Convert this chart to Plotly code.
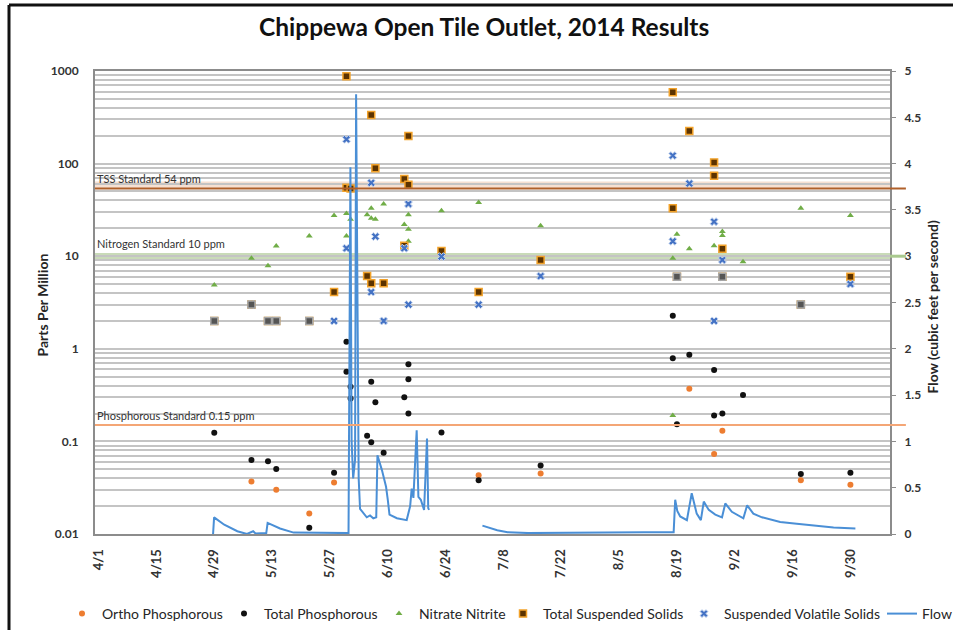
import math
import plotly.graph_objects as go

# ---- Grab-sample results (ppm) ----
ortho_dates = ["2014-05-08", "2014-05-14", "2014-05-22", "2014-05-28", "2014-07-02", "2014-07-17",
               "2014-08-22", "2014-08-28", "2014-08-30", "2014-09-18", "2014-09-30"]
ortho_ppm = [0.037, 0.030, 0.0167, 0.036, 0.043, 0.045, 0.37, 0.073, 0.13, 0.038, 0.034]

tp_dates = ["2014-04-29", "2014-05-08", "2014-05-12", "2014-05-14", "2014-05-22", "2014-05-28",
            "2014-05-31", "2014-05-31", "2014-06-01", "2014-06-01", "2014-06-05", "2014-06-06",
            "2014-06-06", "2014-06-07", "2014-06-09", "2014-06-14", "2014-06-15", "2014-06-15",
            "2014-06-15", "2014-06-23", "2014-07-02", "2014-07-17", "2014-08-18", "2014-08-18",
            "2014-08-19", "2014-08-22", "2014-08-28", "2014-08-28", "2014-08-30", "2014-09-04",
            "2014-09-18", "2014-09-30"]
tp_ppm = [0.124, 0.063, 0.061, 0.0505, 0.0117, 0.046,
          1.19, 0.566, 0.39, 0.29, 0.115, 0.44,
          0.098, 0.264, 0.0755, 0.30, 0.68, 0.47,
          0.20, 0.125, 0.038, 0.055, 2.28, 0.79,
          0.153, 0.86, 0.59, 0.19, 0.20, 0.317,
          0.0445, 0.046]

nitrate_dates = ["2014-04-29", "2014-05-08", "2014-05-12", "2014-05-14", "2014-05-22", "2014-05-28",
                 "2014-05-31", "2014-05-31", "2014-06-01", "2014-06-05", "2014-06-06", "2014-06-06",
                 "2014-06-07", "2014-06-09", "2014-06-14", "2014-06-15", "2014-06-15", "2014-06-15",
                 "2014-06-23", "2014-07-02", "2014-07-17", "2014-08-18", "2014-08-18", "2014-08-19",
                 "2014-08-22", "2014-08-28", "2014-08-30", "2014-08-30", "2014-09-04", "2014-09-18",
                 "2014-09-30"]
nitrate_ppm = [4.9, 9.5, 7.9, 12.9, 16.5, 27.5,
               29, 16.5, 25, 28, 33, 25.7,
               25, 36.6, 22, 28, 19.5, 14.5,
               31, 38, 21.3, 9.5, 0.19, 17.3,
               12, 13, 18.5, 16.7, 8.7, 33,
               27.5]

tss_dates = ["2014-04-29", "2014-05-08", "2014-05-12", "2014-05-14", "2014-05-22", "2014-05-28",
             "2014-05-31", "2014-05-31", "2014-06-01", "2014-06-05", "2014-06-06", "2014-06-06",
             "2014-06-07", "2014-06-09", "2014-06-14", "2014-06-14", "2014-06-15", "2014-06-15",
             "2014-06-23", "2014-07-02", "2014-07-17", "2014-08-18", "2014-08-18", "2014-08-19",
             "2014-08-22", "2014-08-28", "2014-08-28", "2014-08-30", "2014-08-30", "2014-09-18",
             "2014-09-30"]
tss_ppm = [2, 3, 2, 2, 2, 4.1,
           880, 55, 54, 6.1, 335, 5.1,
           89, 5.1, 68, 13, 199, 59,
           11.4, 4.1, 9.1, 589, 32.9, 6,
           225, 103, 74, 12, 6, 3,
           6.0]

vss_dates = ["2014-04-29", "2014-05-08", "2014-05-12", "2014-05-14", "2014-05-22", "2014-05-28",
             "2014-05-31", "2014-05-31", "2014-06-06", "2014-06-06", "2014-06-07", "2014-06-09",
             "2014-06-14", "2014-06-15", "2014-06-15", "2014-06-23", "2014-07-02", "2014-07-17",
             "2014-08-18", "2014-08-18", "2014-08-19", "2014-08-22", "2014-08-28", "2014-08-28",
             "2014-08-30", "2014-08-30", "2014-09-18", "2014-09-30"]
vss_ppm = [2, 3, 2, 2, 2, 2.0,
           183, 12.2, 62, 4.1, 16.3, 2.0,
           12.2, 36.6, 3.0, 9.9, 3.0, 6.1,
           122, 14.5, 6, 61, 23.6, 2.0,
           9.1, 6, 3, 5.0]

# ---- Continuous flow record (cfs); None marks the gap in logging ----
flow_time = ["2014-04-28 17:00", "2014-04-28 23:00", "2014-05-01 10:00", "2014-05-04 14:00",
             "2014-05-06 22:00", "2014-05-08 10:00", "2014-05-09 00:00", "2014-05-11 14:00",
             "2014-05-11 22:00", "2014-05-14 22:00", "2014-05-18 05:00", "2014-05-27 00:00",
             "2014-05-31 12:00", "2014-05-31 23:00", "2014-06-01 06:00", "2014-06-01 15:00",
             "2014-06-02 02:00", "2014-06-02 08:00", "2014-06-02 17:00", "2014-06-02 23:00",
             "2014-06-03 07:00", "2014-06-04 02:00", "2014-06-04 22:00", "2014-06-05 17:00",
             "2014-06-06 12:00", "2014-06-07 05:00", "2014-06-07 12:00", "2014-06-08 14:00",
             "2014-06-09 14:00", "2014-06-10 00:00", "2014-06-10 10:00", "2014-06-12 05:00",
             "2014-06-14 14:00", "2014-06-15 10:00", "2014-06-15 19:00", "2014-06-16 05:00",
             "2014-06-17 00:00", "2014-06-17 10:00", "2014-06-18 00:00", "2014-06-18 19:00",
             "2014-06-19 12:00", "2014-06-19 19:00", "2014-06-20 00:00", "2014-06-26 00:00",
             "2014-07-02 22:00", "2014-07-04 12:00", "2014-07-06 12:00", "2014-07-09 00:00",
             "2014-07-14 00:00", "2014-08-11 00:00", "2014-08-18 05:00", "2014-08-18 14:00",
             "2014-08-19 02:00", "2014-08-19 19:00", "2014-08-21 10:00", "2014-08-22 14:00",
             "2014-08-23 00:00", "2014-08-23 19:00", "2014-08-24 19:00", "2014-08-25 12:00",
             "2014-08-26 17:00", "2014-08-28 07:00", "2014-08-29 22:00", "2014-08-30 17:00",
             "2014-09-01 07:00", "2014-09-04 02:00", "2014-09-05 00:00", "2014-09-06 12:00",
             "2014-09-08 14:00", "2014-09-13 00:00", "2014-09-17 00:00", "2014-09-21 02:00",
             "2014-09-25 22:00", "2014-10-01 05:00"]
flow_cfs = [0.0, 0.18, 0.10, 0.03,
            0.0, 0.03, 0.005, 0.01,
            0.12, 0.06, 0.015, 0.01,
            0.01, 3.96, 1.0, 0.6,
            0.8, 4.75, 2.0, 0.6,
            0.27, 0.22, 0.18, 0.2,
            0.17, 0.18, 0.85, 0.69,
            0.51, 0.37, 0.21, 0.17,
            0.15, 0.30, 0.49, 0.39,
            1.12, 0.40, 0.37, 0.26,
            1.03, 0.28, 0.26, None,
            0.09, 0.07, 0.04, 0.02,
            0.01, 0.02, 0.02, 0.37,
            0.25, 0.19, 0.15, 0.44,
            0.37, 0.22, 0.15, 0.35,
            0.26, 0.21, 0.18, 0.33,
            0.24, 0.17, 0.31, 0.22,
            0.18, 0.13, 0.11, 0.09,
            0.07, 0.06]

# ---- Water-quality standards (ppm) ----
tss_standard = 54
nitrogen_standard = 10
phosphorous_standard = 0.15

x_range = ["2014-03-31 03:00", "2014-10-09 14:00"]

FONT = "Lato, 'Open Sans', Arial, sans-serif"
TXT = "#262626"

W, H = 953, 630
ML, MR, MT, MB = 95, 63, 71, 96
plot_w, plot_h = W - ML - MR, H - MT - MB
plot_b = H - MB


def px_x(px):
    return (px - ML) / plot_w


def px_y(py):
    return (plot_b - py) / plot_h


fig = go.Figure()

fig.add_trace(go.Scatter(
    x=ortho_dates, y=ortho_ppm, mode="markers", name="Ortho Phosphorous",
    marker=dict(symbol="circle", size=6, color="#ed7d31"), legend="legend"))
fig.add_trace(go.Scatter(
    x=tp_dates, y=tp_ppm, mode="markers", name="Total Phosphorous",
    marker=dict(symbol="circle", size=6, color="#111111"), legend="legend2"))
fig.add_trace(go.Scatter(
    x=nitrate_dates, y=nitrate_ppm, mode="markers", name="Nitrate Nitrite",
    marker=dict(symbol="triangle-up", size=6, color="#70ad47"), legend="legend3"))
fig.add_trace(go.Scatter(
    x=tss_dates, y=tss_ppm, mode="markers", name="Total Suspended Solids",
    marker=dict(symbol="square", size=7, color="#5c3300",
                line=dict(color="#f2a22a", width=1.5)), legend="legend4"))
fig.add_trace(go.Scatter(
    x=vss_dates, y=vss_ppm, mode="markers", name="Suspended Volatile Solids",
    marker=dict(symbol="x", size=7, color="#4472c4",
                line=dict(color="#c5d5ee", width=1)), legend="legend5"))

# Where TSS and VSS report the same value on the same day the two markers merge
tss_pairs = set(zip(tss_dates, tss_ppm))
both = [(d, v) for d, v in zip(vss_dates, vss_ppm) if (d, v) in tss_pairs]
fig.add_trace(go.Scatter(
    x=[d for d, _ in both], y=[v for _, v in both], mode="markers", showlegend=False,
    hoverinfo="skip",
    marker=dict(symbol="square", size=7, color="#555555",
                line=dict(color="#a6a6a6", width=1.5))))

fig.add_trace(go.Scatter(
    x=flow_time, y=flow_cfs, mode="lines", name="Flow", yaxis="y2",
    line=dict(color="#4a8fd6", width=2), legend="legend6"))

# ---- Standards: bands, lines, labels ----
fig.add_shape(type="rect", xref="paper", x0=0, x1=1.0, yref="y",
              y0=tss_standard, y1=tss_standard * 1.19, fillcolor="#f6e0d2",
              line_width=0, layer="below")
fig.add_shape(type="line", xref="paper", x0=0, x1=1.02, yref="y",
              y0=tss_standard, y1=tss_standard, line=dict(color="#b0602a", width=2))
fig.add_shape(type="rect", xref="paper", x0=0, x1=1.0, yref="y",
              y0=nitrogen_standard / 1.1, y1=nitrogen_standard * 1.08,
              fillcolor="#c9dbb8", line_width=0, layer="below")
fig.add_shape(type="line", xref="paper", x0=1.0, x1=1.02, yref="y",
              y0=nitrogen_standard, y1=nitrogen_standard, line=dict(color="#a9c98e", width=3))
fig.add_shape(type="line", xref="paper", x0=0, x1=1.02, yref="y",
              y0=phosphorous_standard, y1=phosphorous_standard,
              line=dict(color="#f4a676", width=2))

std_labels = [("TSS Standard 54 ppm", tss_standard),
              ("Nitrogen Standard 10 ppm", nitrogen_standard * 1.08),
              ("Phosphorous Standard 0.15 ppm", phosphorous_standard)]
for text, val in std_labels:
    fig.add_annotation(text=text, xref="paper", x=0.0, xanchor="left", yref="y",
                       y=math.log10(val), yanchor="bottom", showarrow=False, yshift=1,
                       font=dict(family=FONT, size=11, color="#333333"))

# ---- Log gridlines (major decades plus 2..9 minors) ----
grid_vals = [m * 10 ** e for e in range(-2, 3) for m in range(1, 10)] + [1000]
grid_text = [f"{v:g}" if round(math.log10(v), 6).is_integer() else "" for v in grid_vals]

fig.update_layout(
    width=W, height=H,
    margin=dict(l=ML, r=MR, t=MT, b=MB, autoexpand=False),
    paper_bgcolor="white", plot_bgcolor="white",
    font=dict(family=FONT, color=TXT),
    title=dict(text="Chippewa Open Tile Outlet, 2014 Results", x=0.508, xanchor="center",
               y=0.957, yanchor="middle",
               font=dict(family=FONT, size=24.5, color="#111111", weight="bold")),
    xaxis=dict(type="date", range=x_range, tick0="2014-04-01", dtick=14 * 86400000,
               tickformat="%-m/%-d", tickangle=-90, showgrid=False, zeroline=False,
               showline=True, linecolor="#8c8c8c", linewidth=2, mirror=True,
               ticks="", ticklabelstandoff=8,
               tickfont=dict(family=FONT, size=13, color="#333333", weight="bold")),
    yaxis=dict(type="log", range=[-2, 3], tickvals=grid_vals, ticktext=grid_text,
               showgrid=True, gridcolor="#c4c4c4", gridwidth=2, zeroline=False,
               showline=True, linecolor="#8c8c8c", linewidth=2, mirror=True,
               ticks="", ticklabelstandoff=12,
               tickfont=dict(family=FONT, size=12, color="#333333", weight="bold")),
    yaxis2=dict(overlaying="y", side="right", range=[0, 5], dtick=0.5, showgrid=False,
                zeroline=False, showline=False, ticks="outside", ticklen=5,
                tickcolor="#8c8c8c", ticklabelstandoff=6,
                tickfont=dict(family=FONT, size=12, color="#333333", weight="bold")),
    showlegend=True,
)

# One single-item legend per series so the entries sit on one row under the axis
leg_x_px = [62, 224, 379, 503, 684, 882]
names = ["legend", "legend2", "legend3", "legend4", "legend5", "legend6"]
for nm, px in zip(names, leg_x_px):
    fig.update_layout({nm: dict(x=px_x(px), xanchor="left", y=px_y(614), yanchor="middle",
                                orientation="h", bgcolor="rgba(0,0,0,0)",
                                font=dict(family=FONT, size=14, color="#262626"))})

# Axis titles
fig.add_annotation(text="<b>Parts Per Million</b>", xref="paper", yref="paper",
                   x=px_x(31), y=px_y(305), textangle=-90, showarrow=False,
                   font=dict(family=FONT, size=14, color="#262626"))
fig.add_annotation(text="<b>Flow (cubic feet per second)</b>", xref="paper", yref="paper",
                   x=px_x(942), y=px_y(307), textangle=-90, showarrow=False,
                   font=dict(family=FONT, size=14, color="#262626"))

# Chart frame edges (left and top)
fig.add_shape(type="line", xref="paper", yref="paper", x0=px_x(9), x1=px_x(9),
              y0=px_y(5), y1=px_y(640), line=dict(color="#111111", width=3))
fig.add_shape(type="line", xref="paper", yref="paper", x0=px_x(9), x1=px_x(960),
              y0=px_y(5), y1=px_y(5), line=dict(color="#111111", width=3))

fig.write_html("out.html")
